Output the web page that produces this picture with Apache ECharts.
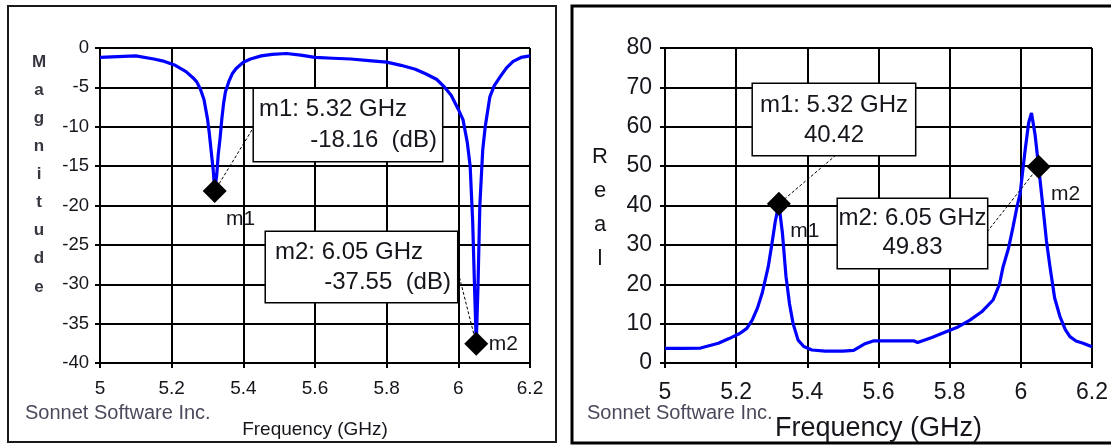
<!DOCTYPE html>
<html>
<head>
<meta charset="utf-8">
<script src="https://cdn.jsdelivr.net/npm/echarts@6/dist/echarts.min.js"></script>
<style>
html,body{margin:0;padding:0;background:#fff;}
#c{width:1111px;height:445px;}
</style>
</head>
<body>
<div id="c"></div>
<script>
// ---------- data ----------
const magFreq = [5.00,5.05,5.10,5.15,5.18,5.21,5.24,5.26,5.27,5.28,5.29,5.30,5.305,5.31,5.316,5.32,5.326,5.33,5.335,5.34,5.345,5.35,5.36,5.37,5.38,5.40,5.42,5.45,5.48,5.52,5.56,5.60,5.65,5.70,5.75,5.80,5.84,5.88,5.91,5.94,5.96,5.98,6.00,6.013,6.025,6.033,6.04,6.045,6.05,6.055,6.06,6.068,6.075,6.088,6.10,6.116,6.135,6.153,6.175,6.20];
const magDb   = [-1.2,-1.1,-1.0,-1.4,-1.7,-2.2,-3.0,-3.8,-4.3,-5.2,-6.5,-9.0,-10.8,-13.0,-15.5,-18.16,-16.0,-13.5,-11.5,-9.0,-7.0,-5.6,-4.2,-3.2,-2.6,-1.8,-1.4,-1.0,-0.8,-0.7,-0.9,-1.2,-1.3,-1.4,-1.6,-1.8,-2.2,-2.7,-3.3,-4.0,-4.9,-6.0,-7.8,-9.1,-12.0,-15.0,-22.0,-30.0,-37.55,-30.0,-20.0,-13.0,-10.0,-6.2,-4.8,-3.7,-2.5,-1.7,-1.2,-1.0];

const realFreq = [5.00,5.05,5.10,5.15,5.18,5.21,5.23,5.245,5.26,5.273,5.29,5.30,5.31,5.32,5.33,5.34,5.35,5.36,5.374,5.39,5.413,5.45,5.50,5.53,5.56,5.585,5.62,5.66,5.70,5.71,5.75,5.781,5.82,5.857,5.89,5.922,5.94,5.95,5.965,5.978,5.99,5.998,6.012,6.022,6.03,6.04,6.05,6.062,6.072,6.082,6.095,6.11,6.125,6.138,6.155,6.175,6.20];
const realVals = [3.7,3.7,3.8,5.0,6.2,7.5,8.8,10.9,14.0,17.7,24.4,30.0,36.0,40.42,33.0,22.0,15.0,10.0,5.8,4.2,3.3,3.0,3.0,3.2,4.8,5.6,5.6,5.6,5.6,5.2,6.5,7.6,9.0,10.9,13.0,16.0,20.0,24.4,29.0,34.5,40.0,43.0,54.0,61.0,63.5,58.0,49.83,39.7,31.0,24.4,16.5,11.8,8.5,6.7,5.6,5.0,4.1];

const markerNames   = ['m1','m2'];
const magMarkFreq   = [5.32, 6.05];
const magMarkVal    = [-18.16, -37.55];
const realMarkFreq  = [5.32, 6.05];
const realMarkVal   = [40.42, 49.83];

const freqTicks = [5.0,5.2,5.4,5.6,5.8,6.0,6.2];
const magTicks  = [-40,-35,-30,-25,-20,-15,-10,-5,0];
const realTicks = [0,10,20,30,40,50,60,70,80];

// ---------- layout (data coordinates for callouts) ----------
const magBoxAt   = [[5.4298,-5.21],[5.4633,-23.37]];
const magLeadAt  = [[5.424,-10.41],[5.9964,-27.9]];
const realBoxAt  = [[5.2473,70.86],[5.4862,41.65]];
const realLeadAt = [[5.4806,52.8],[5.905,33.3]];

const FONT = '"Liberation Sans", Arial, sans-serif';
const TXT = '#15151c';

function pairs(xs, ys){ return xs.map((x,i)=>[x, ys[i]]); }
function step(t){ return t[1]-t[0]; }

function xAxisCfg(idx, labelSize, nameSize, nameGap, margin){
  return {
    type:'value', gridIndex:idx,
    min:freqTicks[0], max:freqTicks[freqTicks.length-1], interval:+step(freqTicks).toFixed(3),
    name:'Frequency (GHz)', nameLocation:'middle', nameGap:nameGap,
    nameTextStyle:{fontFamily:FONT, fontSize:nameSize, color:TXT},
    axisLine:{show:true, onZero:false, lineStyle:{color:'#000', width:2}},
    axisTick:{show:true, inside:false, length:5, lineStyle:{color:'#000', width:2}},
    axisLabel:{fontFamily:FONT, fontSize:labelSize, color:TXT, margin:margin,
      formatter:v=>String(+(+v).toFixed(1))},
    splitLine:{show:true, lineStyle:{color:'#000', width:2}}
  };
}
function yAxisCfg(idx, ticks, labelSize, margin){
  return {
    type:'value', gridIndex:idx,
    min:ticks[0], max:ticks[ticks.length-1], interval:step(ticks),
    axisLine:{show:true, onZero:false, lineStyle:{color:'#000', width:2}},
    axisTick:{show:true, inside:false, length:5, lineStyle:{color:'#000', width:2}},
    axisLabel:{fontFamily:FONT, fontSize:labelSize, color:TXT, margin:margin},
    splitLine:{show:true, lineStyle:{color:'#000', width:2}}
  };
}

function markerSeries(idx, fs, vs, offsets){
  return {
    type:'scatter', xAxisIndex:idx, yAxisIndex:idx, z:6,
    symbol:'diamond', symbolSize:24,
    itemStyle:{color:'#000', opacity:1},
    emphasis:{disabled:true},
    data: fs.map((f,i)=>({
      value:[f, vs[i]],
      label:{show:true, position:'inside', offset:offsets[i], formatter:markerNames[i],
        fontFamily:FONT, fontSize:21, color:TXT, opacity:1}
    })),
    silent:true
  };
}

function leaderSeries(idx, from, fs, vs){
  return {
    type:'line', xAxisIndex:idx, yAxisIndex:idx, z:3, data:[], silent:true,
    markLine:{
      silent:true, symbol:['none','none'], animation:false,
      label:{show:false},
      lineStyle:{color:'#000', width:1, type:[3,2], opacity:1},
      data: from.map((p,i)=>[{coord:p},{coord:[fs[i], vs[i]]}])
    }
  };
}

function boxSeries(idx, at, items){
  return {
    type:'scatter', xAxisIndex:idx, yAxisIndex:idx, z:5, silent:true,
    symbolSize:0.1, itemStyle:{color:'#fff', opacity:1},
    emphasis:{disabled:true},
    data: at.map((p,i)=>{
      const it = items[i];
      return {
        value:p,
        label:{
          show:true, position:[0,0], opacity:1,
          width:it.w, height:it.h,
          padding:it.pad,
          backgroundColor:'#fff', borderColor:'#000', borderWidth:1.5,
          formatter:'{a|'+it.l1+'}\n{b|'+it.l2+'}',
          rich:{
            a:{fontFamily:FONT, fontSize:24, color:TXT, lineHeight:it.lh, align:it.a1, width:it.w},
            b:{fontFamily:FONT, fontSize:24, color:TXT, lineHeight:it.lh, align:it.a2, width:it.w}
          }
        }
      };
    })
  };
}

const magItems = magMarkFreq.map((f,i)=>({
  l1: markerNames[i]+': '+f.toFixed(2)+' GHz',
  l2: magMarkVal[i].toFixed(2)+'  (dB)',
  a1:'left', a2:'right'
}));
magItems[0] = Object.assign(magItems[0], {w:178, h:62, lh:31, pad:[5,5,5,5]});
magItems[1] = Object.assign(magItems[1], {w:176, h:60, lh:30, pad:[5,6,5,9]});

const realItems = realMarkFreq.map((f,i)=>({
  l1: markerNames[i]+': '+f.toFixed(2)+' GHz',
  l2: realMarkVal[i].toFixed(2),
  a1:'center', a2:'center'
}));
realItems[0] = Object.assign(realItems[0], {w:152, h:60, lh:30, pad:[6,5,5,5]});
realItems[1] = Object.assign(realItems[1], {w:141, h:58, lh:29, pad:[5,4,6,4]});

const chart = echarts.init(document.getElementById('c'), null, {renderer:'canvas'});
chart.setOption({
  animation:false,
  backgroundColor:'#fff',
  grid:[
    {left:100, top:48, width:430, height:315, containLabel:false, outerBoundsMode:'none'},
    {left:665, top:48, width:427, height:315, containLabel:false, outerBoundsMode:'none'}
  ],
  xAxis:[ xAxisCfg(0, 19, 19, 57, 16), xAxisCfg(1, 23, 27, 52, 18) ],
  yAxis:[ yAxisCfg(0, magTicks, 18.5, 11), yAxisCfg(1, realTicks, 23, 13) ],
  graphic:[
    {type:'rect', silent:true, z:0, shape:{x:8, y:6, width:548, height:436},
      style:{fill:'none', stroke:'#1a1a1a', lineWidth:2}},
    {type:'rect', silent:true, z:0, shape:{x:572, y:6, width:550, height:437},
      style:{fill:'none', stroke:'#000', lineWidth:3}},
    {type:'text', silent:true, x:39, y:48,
      style:{text:'M\na\ng\nn\ni\nt\nu\nd\ne', align:'center', verticalAlign:'top',
        font:'bold 17px '+FONT, fill:'#3a3640', lineHeight:28.1}},
    {type:'text', silent:true, x:600, y:140,
      style:{text:'R\ne\na\nl', align:'center', verticalAlign:'top',
        font:'22px '+FONT, fill:TXT, lineHeight:34}},
    {type:'text', silent:true, x:25, y:403,
      style:{text:'Sonnet Software Inc.', font:'20px '+FONT, fill:'#4a4a5c'}},
    {type:'text', silent:true, x:587, y:403,
      style:{text:'Sonnet Software Inc.', font:'20px '+FONT, fill:'#4a4a5c'}}
  ],
  series:[
    {type:'line', xAxisIndex:0, yAxisIndex:0, z:4, data:pairs(magFreq, magDb),
      showSymbol:false, symbol:'none', smooth:false, silent:true,
      lineStyle:{color:'#0000ff', width:3.2}},
    {type:'line', xAxisIndex:1, yAxisIndex:1, z:4, data:pairs(realFreq, realVals),
      showSymbol:false, symbol:'none', smooth:false, silent:true,
      lineStyle:{color:'#0000ff', width:3.2}},
    leaderSeries(0, magLeadAt, magMarkFreq, magMarkVal),
    leaderSeries(1, realLeadAt, realMarkFreq, realMarkVal),
    markerSeries(0, magMarkFreq, magMarkVal, [[26,28],[27,0]]),
    markerSeries(1, realMarkFreq, realMarkVal, [[26,27],[27,27]]),
    boxSeries(0, magBoxAt, magItems),
    boxSeries(1, realBoxAt, realItems)
  ]
});
</script>
</body>
</html>
